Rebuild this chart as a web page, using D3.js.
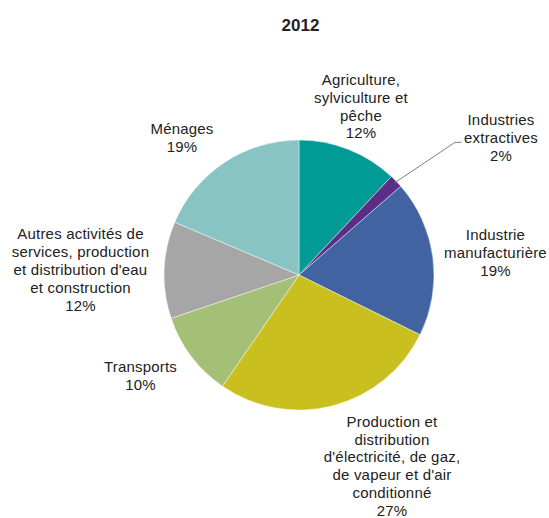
<!DOCTYPE html>
<html>
<head>
<meta charset="utf-8">
<script src="https://cdn.jsdelivr.net/npm/d3@7"></script>
<style>
  html, body { margin: 0; padding: 0; background: #fff; }
  svg { display: block; }
  text { font-family: "Liberation Sans", Arial, sans-serif; fill: #222; }
</style>
</head>
<body>
<svg id="chart" width="549" height="518"></svg>
<script>
// Répartition par secteur, 2012 (parts en %)
const title = "2012";
const categories = [
  "Agriculture, sylviculture et pêche",
  "Industries extractives",
  "Industrie manufacturière",
  "Production et distribution d'électricité, de gaz, de vapeur et d'air conditionné",
  "Transports",
  "Autres activités de services, production et distribution d'eau et construction",
  "Ménages"
];
const labelLines = [
  ["Agriculture,", "sylviculture et", "pêche"],
  ["Industries", "extractives"],
  ["Industrie", "manufacturière"],
  ["Production et", "distribution", "d'électricité, de gaz,", "de vapeur et d'air", "conditionné"],
  ["Transports"],
  ["Autres activités de", "services, production", "et distribution d'eau", "et construction"],
  ["Ménages"]
];
const shares = [12.0, 1.6, 18.7, 27.3, 10.2, 11.6, 18.6];

// Couleurs des secteurs
const palette = ["#009b94", "#5b2d87", "#4263a1", "#c9c01f", "#a3c076", "#a6a6a6", "#87c4c3"];

// Mise en page
const cx = 299, cy = 275, radius = 135;
const lineStep = 17.8;
const labelPos = [
  { x: 361, y: 85 },
  { x: 501, y: 125 },
  { x: 495.5, y: 240 },
  { x: 392, y: 426.7 },
  { x: 140.5, y: 372.3 },
  { x: 80.5, y: 239.3 },
  { x: 182, y: 134.3 }
];

const svg = d3.select("#chart");

svg.append("text")
  .attr("x", 300.5)
  .attr("y", 31)
  .attr("text-anchor", "middle")
  .style("font-size", "17px")
  .style("font-weight", "bold")
  .text(title);

const data = categories.map((c, i) => ({ name: c, value: shares[i], index: i }));

const color = d3.scaleOrdinal().domain(categories).range(palette);

const pie = d3.pie().value(d => d.value).sort(null);
const arc = d3.arc().innerRadius(0).outerRadius(radius);
const arcs = pie(data);

const g = svg.append("g").attr("transform", `translate(${cx},${cy})`);

g.selectAll("path.slice")
  .data(arcs)
  .join("path")
  .attr("class", "slice")
  .attr("d", arc)
  .attr("fill", d => color(d.data.name))
  .attr("stroke", "#ffffff")
  .attr("stroke-opacity", 0.55)
  .attr("stroke-width", 0.8);

// Étiquettes : libellé + pourcentage arrondi
const labels = svg.append("g");
arcs.forEach((a, i) => {
  const p = labelPos[i];
  const lines = labelLines[i].concat([d3.format(".0f")(a.data.value) + "%"]);
  const t = labels.append("text")
    .attr("text-anchor", "middle")
    .style("font-size", "15px")
    .style("letter-spacing", "0.2px");
  lines.forEach((ln, k) => {
    t.append("tspan")
      .attr("x", p.x)
      .attr("y", p.y + k * lineStep)
      .text(ln);
  });
  a.textNode = t;
});

// Trait de rappel pour la petite part (industries extractives)
const small = arcs[1];
const mid = (small.startAngle + small.endAngle) / 2;
const rStart = radius - 2;
const start = [cx + rStart * Math.sin(mid), cy - rStart * Math.cos(mid)];
const secondLine = small.textNode.selectAll("tspan").nodes()[1];
const w = secondLine.getComputedTextLength();
const endX = labelPos[1].x - w / 2 - 2.5;
const yLine = labelPos[1].y + lineStep - 0.5;
const elbow = [endX - 6.5, yLine];

svg.append("polyline")
  .attr("points", [start, elbow, [endX, yLine]].map(p => p.join(",")).join(" "))
  .attr("fill", "none")
  .attr("stroke", "#7f7f7f")
  .attr("stroke-width", 1);
</script>
</body>
</html>
